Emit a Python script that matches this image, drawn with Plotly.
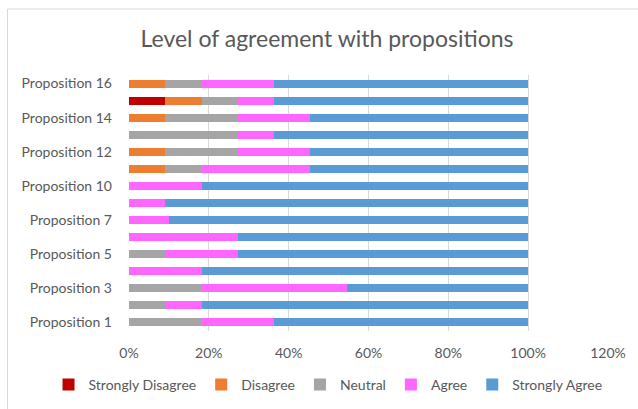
import plotly.graph_objects as go

# Propositions, bottom to top (one proposition number is not surveyed)
propositions = [
    "Proposition 1", "Proposition 2", "Proposition 3", "Proposition 4",
    "Proposition 5", "Proposition 6", "Proposition 7", "Proposition 8",
    "Proposition 10", "Proposition 11", "Proposition 12", "Proposition 13",
    "Proposition 14", "Proposition 15", "Proposition 16",
]

# Share of respondents per answer, one value per proposition
strongly_disagree = [0, 0, 0, 0, 0, 0, 0, 0, 0, 0, 0, 0, 0, 0.0909, 0]
disagree = [0, 0, 0, 0, 0, 0, 0, 0, 0, 0.0909, 0.0909, 0, 0.0909, 0.0909, 0.0909]
neutral = [0.1818, 0.0909, 0.1818, 0, 0.0909, 0, 0, 0, 0, 0.0909, 0.1818, 0.2727, 0.1818, 0.0909, 0.0909]
agree = [0.1818, 0.0909, 0.3636, 0.1818, 0.1818, 0.2727, 0.10, 0.0909, 0.1818, 0.2727, 0.1818, 0.0909, 0.1818, 0.0909, 0.1818]
strongly_agree = [0.6364, 0.8182, 0.4545, 0.8182, 0.7273, 0.7273, 0.90, 0.9091, 0.8182, 0.5455, 0.5455, 0.6364, 0.5455, 0.6364, 0.6364]

# Every other proposition is labelled on the axis
y_tick_labels = propositions[::2]
x_tick_values = [0, 0.2, 0.4, 0.6, 0.8, 1.0, 1.2]

series = [
    ("Strongly Disagree", strongly_disagree, "#C00000"),
    ("Disagree", disagree, "#ED7D31"),
    ("Neutral", neutral, "#A5A5A5"),
    ("Agree", agree, "#FF66FF"),
    ("Strongly Agree", strongly_agree, "#5B9BD5"),
]

FONT = "Lato, 'Open Sans', sans-serif"
TEXT = "#595959"

fig = go.Figure()
for name, values, color in series:
    fig.add_trace(go.Bar(
        y=propositions, x=values, name=name, orientation="h",
        marker=dict(color=color, line=dict(width=0)),
    ))

fig.update_layout(
    width=638, height=409,
    margin=dict(l=129, r=30, t=75, b=78, autoexpand=False),
    paper_bgcolor="white", plot_bgcolor="white",
    barmode="stack", bargap=0.53,
    font=dict(family=FONT, color=TEXT, size=14),
    title=dict(
        text="Level of agreement with propositions",
        x=(327 - 129) / 479, xref="paper", xanchor="center",
        y=1 - 39 / 409, yanchor="middle",
        font=dict(family=FONT, size=23, color=TEXT),
    ),
    xaxis=dict(
        range=[0, 1.2], tickvals=x_tick_values, tickformat=".0%",
        showgrid=True, gridcolor="#D9D9D9", gridwidth=1,
        zeroline=False, showline=False, ticks="",
        tickfont=dict(size=14, color=TEXT), ticklabelstandoff=12,
    ),
    yaxis=dict(
        type="category", categoryorder="array", categoryarray=propositions,
        tickvals=y_tick_labels, ticktext=y_tick_labels,
        showgrid=False, zeroline=False, showline=False, ticks="",
        tickfont=dict(size=14, color=TEXT), ticklabelstandoff=16,
    ),
    legend=dict(
        orientation="h", traceorder="normal",
        x=-0.168, xanchor="left",
        y=-(385 - 331) / 256, yanchor="middle",
        font=dict(size=14, color=TEXT),
        itemwidth=30,
    ),
    showlegend=True,
    shapes=[dict(
        type="rect", xref="paper", yref="paper",
        x0=(7.5 - 129) / 479, x1=2, y0=-2, y1=(331 - 9) / 256,
        line=dict(color="#D9D9D9", width=1), fillcolor="rgba(0,0,0,0)",
        layer="below",
    )],
)

fig.write_html("out.html")
